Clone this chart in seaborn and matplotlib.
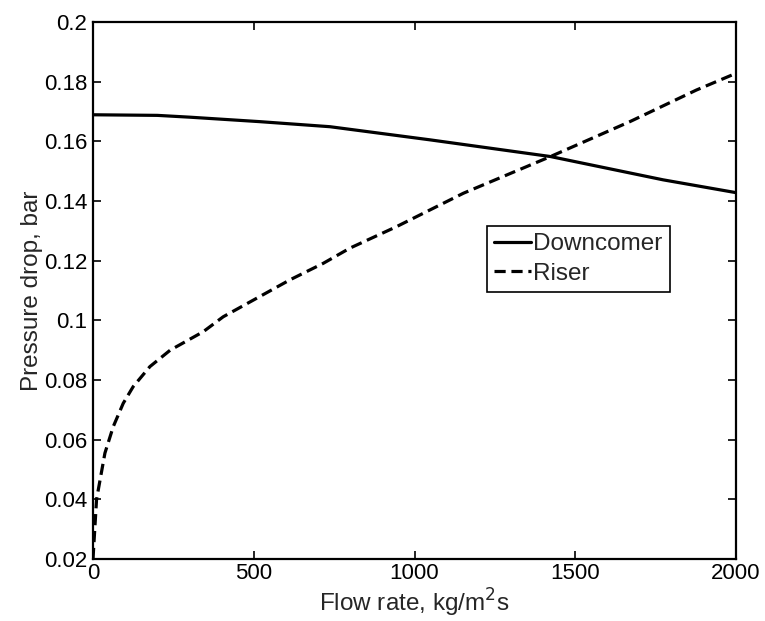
import pandas as pd
import matplotlib
matplotlib.use('Agg')
from matplotlib import pyplot as plt
import seaborn as sns

# values
downcomer_x = [0, 200, 300, 518, 737, 1048, 1423, 1773, 2000]
downcomer_y = [0.1689, 0.1687, 0.1681, 0.1666, 0.1649, 0.1605, 0.1549, 0.1471, 0.1428]

riser_x = [0, 1, 11, 37, 63, 94, 125, 177, 240, 343, 405, 509, 613, 716, 799,
           944, 1152, 1423, 1670, 1877, 2000]
riser_y = [0.020, 0.022, 0.040, 0.0555, 0.0644, 0.0722, 0.0778, 0.0845, 0.0900, 0.0962,
           0.1012, 0.1074, 0.1136, 0.1191, 0.1242, 0.1314, 0.1426, 0.1549, 0.1666,
           0.1772, 0.1828]

xticks = [0, 500, 1000, 1500, 2000]
yticks = [0.02, 0.04, 0.06, 0.08, 0.1, 0.12, 0.14, 0.16, 0.18, 0.2]
ytick_labels = ['0.02', '0.04', '0.06', '0.08', '0.1', '0.12', '0.14', '0.16', '0.18', '0.2']

df = pd.concat([
    pd.DataFrame({'x': downcomer_x, 'y': downcomer_y, 'series': 'Downcomer'}),
    pd.DataFrame({'x': riser_x, 'y': riser_y, 'series': 'Riser'}),
])

sns.set_style('ticks')
plt.rcParams['font.family'] = ['Liberation Sans', 'DejaVu Sans']

fig = plt.figure(figsize=(7.65, 6.21), dpi=100)
ax = fig.add_axes([0.1216, 0.0998, 0.8405, 0.8648])

sns.lineplot(data=df, x='x', y='y', style='series', color='black', linewidth=2.3,
             dashes={'Downcomer': '', 'Riser': (3.5, 1.8)}, sort=False,
             estimator=None, ax=ax)

ax.set_xlim(0, 2000)
ax.set_ylim(0.02, 0.2)
ax.set_xticks(xticks)
ax.set_xticklabels([str(t) for t in xticks])
ax.set_yticks(yticks)
ax.set_yticklabels(ytick_labels)
ax.tick_params(direction='in', length=6, width=1.2, labelsize=16, colors='black',
               top=True, right=True, pad=2)
ax.tick_params(axis='y', pad=4)
ax.tick_params(axis='x', pad=3)
for s in ax.spines.values():
    s.set_linewidth(1.6)
    s.set_color('black')
    s.set_visible(True)

ax.set_xlabel('Flow rate, kg/m$^2$s', fontsize=17.5, labelpad=2)
ax.set_ylabel('Pressure drop, bar', fontsize=17.5, labelpad=1)

leg = ax.legend(loc='upper left', bbox_to_anchor=(0.613, 0.620), fontsize=17.5,
                frameon=True, fancybox=False, edgecolor='black', framealpha=1,
                handlelength=1.5, handletextpad=0.1, borderpad=0.3, labelspacing=0.3,
                borderaxespad=0)
leg.get_frame().set_linewidth(1.2)

fig.savefig('out.png', dpi=100)
